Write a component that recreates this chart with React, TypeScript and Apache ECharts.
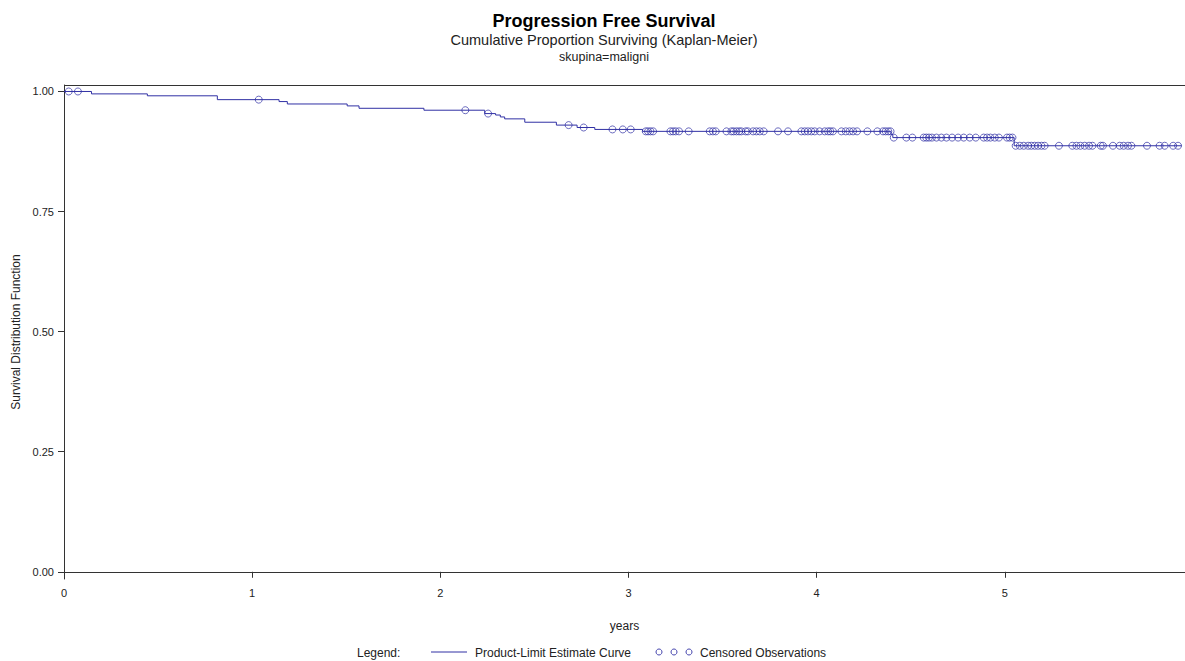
import React, { useEffect, useRef } from "react";
import * as echarts from "echarts";

// Kaplan-Meier step curve: event times (years) and survival after each event
const eventTimes = [0, 0.146, 0.443, 0.815, 1.143, 1.187, 1.505, 1.568, 1.913, 2.236, 2.294, 2.319, 2.342, 2.449, 2.617, 2.727, 2.821, 3.075, 4.395, 4.405, 5.05];
const survival = [1.0, 0.995, 0.991, 0.983, 0.979, 0.974, 0.970, 0.965, 0.961, 0.954, 0.951, 0.947, 0.943, 0.936, 0.930, 0.925, 0.921, 0.917, 0.911, 0.904, 0.887];
const lastTime = 5.94;

// censored observation times (years)
const censoredTimes = [
  0.025, 0.074, 1.035, 2.133, 2.254, 2.682, 2.762, 2.915, 2.970, 3.012,
  3.092, 3.104, 3.117, 3.131, 3.223, 3.237, 3.251, 3.269, 3.320, 3.432,
  3.449, 3.464, 3.521, 3.547, 3.559, 3.574, 3.588, 3.600, 3.623, 3.635,
  3.662, 3.680, 3.698, 3.719, 3.795, 3.848, 3.919, 3.937, 3.954, 3.972,
  3.990, 4.016, 4.043, 4.061, 4.073, 4.087, 4.132, 4.155, 4.175, 4.194,
  4.215, 4.270, 4.323, 4.353, 4.367, 4.381, 4.393, 4.410, 4.477, 4.509,
  4.569, 4.583, 4.597, 4.613, 4.637, 4.663, 4.690, 4.720, 4.752, 4.782,
  4.814, 4.846, 4.888, 4.906, 4.924, 4.947, 4.969, 5.012, 5.026, 5.041,
  5.058, 5.080, 5.101, 5.124, 5.141, 5.159, 5.177, 5.195, 5.212, 5.288,
  5.359, 5.381, 5.402, 5.425, 5.448, 5.466, 5.510, 5.522, 5.575, 5.611,
  5.632, 5.655, 5.673, 5.756, 5.823, 5.850, 5.895, 5.921,
];

const xTicks = [0, 1, 2, 3, 4, 5];
const yTicks = [0, 0.25, 0.5, 0.75, 1];

const titleText = "Progression Free Survival";
const subtitleText = "Cumulative Proportion Surviving (Kaplan-Meier)";
const groupText = "skupina=maligni";
const xName = "years";
const yName = "Survival Distribution Function";
const legendLabel = "Legend:";
const curveLabel = "Product-Limit Estimate Curve";
const censorLabel = "Censored Observations";

const FONT = "'Liberation Sans', Arial, sans-serif";
const BLUE = "#3030a4";
const AXIS = "#333";

function survivalAt(t: number): number {
  let s = survival[0];
  for (let i = 0; i < eventTimes.length; i++) {
    if (eventTimes[i] <= t) s = survival[i];
  }
  return s;
}

export default function App() {
  const ref = useRef<HTMLDivElement>(null);

  useEffect(() => {
    if (!ref.current) return;
    const chart = echarts.init(ref.current, null, { renderer: "svg" });

    const curveData: number[][] = eventTimes.map((t, i) => [t, survival[i]]);
    curveData.push([lastTime, survival[survival.length - 1]]);
    const censorData = censoredTimes.map((t) => [t, survivalAt(t)]);

    chart.setOption({
      animation: false,
      backgroundColor: "#fff",
      textStyle: { fontFamily: FONT },
      grid: {
        left: 64,
        right: 0,
        top: 85,
        bottom: 82,
        show: false,
      },
      xAxis: {
        type: "value",
        min: 0,
        max: 5.958,
        name: xName,
        nameLocation: "middle",
        nameGap: 41,
        nameTextStyle: { fontSize: 12, color: "#222", fontFamily: FONT },
        axisLine: { show: true, lineStyle: { color: AXIS, width: 1 } },
        axisTick: { show: true, length: 6, customValues: xTicks, lineStyle: { color: AXIS } },
        axisLabel: {
          customValues: xTicks,
          margin: 8,
          fontSize: 11,
          color: "#222",
          fontFamily: FONT,
          formatter: (v: number) => String(v),
        },
        splitLine: { show: false },
      },
      yAxis: {
        type: "value",
        min: -0.015,
        max: 1.0135,
        name: yName,
        nameLocation: "middle",
        nameGap: 38,
        nameTextStyle: { fontSize: 12, color: "#222", fontFamily: FONT },
        axisLine: { show: true, lineStyle: { color: AXIS, width: 1 } },
        axisTick: { show: true, length: 6, customValues: yTicks, lineStyle: { color: AXIS } },
        axisLabel: {
          customValues: yTicks,
          margin: 10,
          fontSize: 11,
          color: "#222",
          fontFamily: FONT,
          formatter: (v: number) => v.toFixed(2),
        },
        splitLine: { show: false },
      },
      series: [
        {
          type: "line",
          step: "end",
          data: curveData,
          symbol: "none",
          lineStyle: { color: BLUE, width: 1 },
          z: 2,
        },
        {
          type: "scatter",
          data: censorData,
          symbol: "circle",
          symbolSize: 7,
          itemStyle: { color: "rgba(0,0,0,0)", borderColor: BLUE, borderWidth: 0.9 },
          z: 3,
        },
      ],
      graphic: [
        {
          type: "line",
          shape: { x1: 64, y1: 85.5, x2: 1185, y2: 85.5 },
          style: { stroke: AXIS, lineWidth: 1 },
        },
        {
          type: "text",
          x: 604,
          y: 21,
          style: { text: titleText, font: `bold 18px ${FONT}`, fill: "#000", align: "center", verticalAlign: "middle" },
        },
        {
          type: "text",
          x: 604,
          y: 40,
          style: { text: subtitleText, font: `14.5px ${FONT}`, fill: "#222", align: "center", verticalAlign: "middle" },
        },
        {
          type: "text",
          x: 604,
          y: 57,
          style: { text: groupText, font: `12.5px ${FONT}`, fill: "#222", align: "center", verticalAlign: "middle" },
        },
        {
          type: "text",
          x: 357,
          y: 653,
          style: { text: legendLabel, font: `12px ${FONT}`, fill: "#222", align: "left", verticalAlign: "middle" },
        },
        {
          type: "line",
          shape: { x1: 431, y1: 652, x2: 467, y2: 652 },
          style: { stroke: BLUE, lineWidth: 1 },
        },
        {
          type: "text",
          x: 475,
          y: 653,
          style: { text: curveLabel, font: `12px ${FONT}`, fill: "#222", align: "left", verticalAlign: "middle" },
        },
        { type: "circle", shape: { cx: 659, cy: 652, r: 3 }, style: { fill: "none", stroke: BLUE, lineWidth: 0.9 } },
        { type: "circle", shape: { cx: 674, cy: 652, r: 3 }, style: { fill: "none", stroke: BLUE, lineWidth: 0.9 } },
        { type: "circle", shape: { cx: 689, cy: 652, r: 3 }, style: { fill: "none", stroke: BLUE, lineWidth: 0.9 } },
        {
          type: "text",
          x: 700,
          y: 653,
          style: { text: censorLabel, font: `12px ${FONT}`, fill: "#222", align: "left", verticalAlign: "middle" },
        },
      ],
    });

    return () => chart.dispose();
  }, []);

  return (
    <div
      ref={ref}
      style={{ position: "absolute", left: 0, top: 0, width: 1185, height: 661, background: "#fff" }}
    />
  );
}
